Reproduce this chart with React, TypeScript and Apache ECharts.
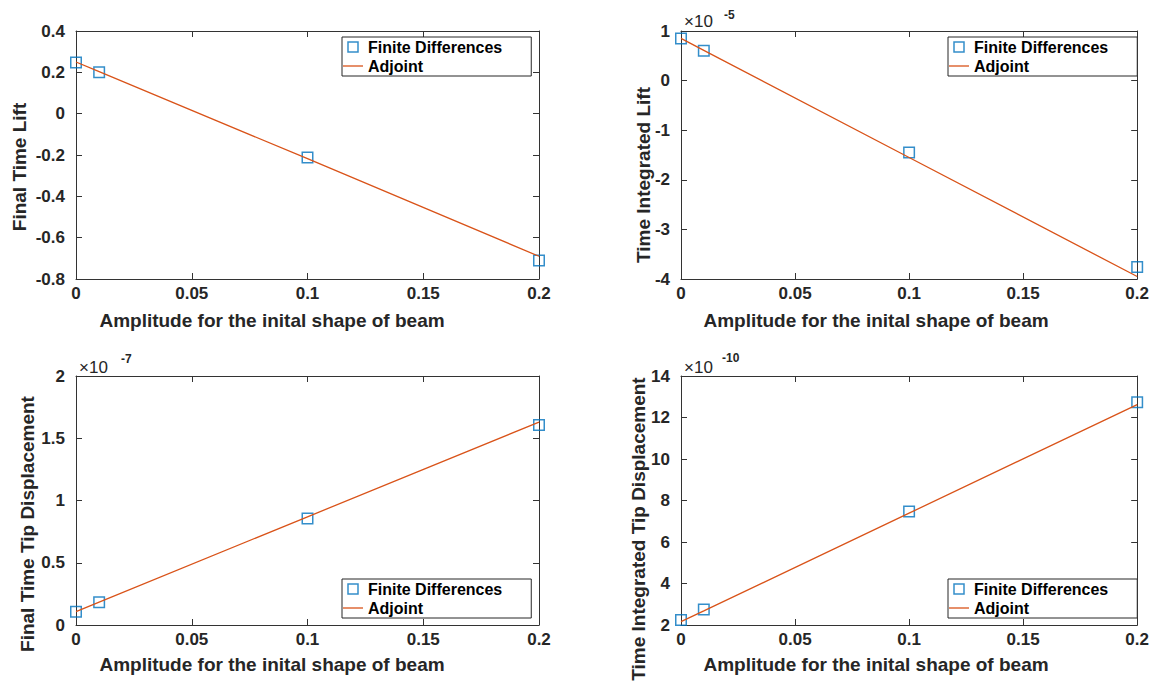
import React, { useEffect, useRef } from "react";
import * as echarts from "echarts";

const amplitudes = [0, 0.01, 0.1, 0.2];
const xTicksInterval = 0.05;

const fdFinalLift = [0.248, 0.2, -0.212, -0.71];
const adjFinalLift = [0.25, 0.203, -0.218, -0.69];

const fdIntLift = [0.85, 0.6, -1.45, -3.76]; // x 1e-5
const adjIntLift = [0.85, 0.61, -1.55, -3.95];

const fdFinalTip = [0.107, 0.182, 0.856, 1.607]; // x 1e-7
const adjFinalTip = [0.107, 0.183, 0.869, 1.63];

const fdIntTip = [2.24, 2.75, 7.47, 12.73]; // x 1e-10
const adjIntTip = [2.16, 2.68, 7.39, 12.62];

const yTitles = [
  "Final Time Lift",
  "Time Integrated Lift",
  "Final Time Tip Displacement",
  "Time Integrated Tip Displacement",
];
const exponents = ["", "-5", "-7", "-10"];
const yMins = [-0.8, -4, 0, 2];
const yMaxs = [0.4, 1, 2, 14];
const yIntervals = [0.2, 1, 0.5, 2];
const xTitle = "Amplitude for the inital shape of beam";
const legendNames = ["Finite Differences", "Adjoint"];

const FONT = "'Liberation Sans', Arial, Helvetica, sans-serif";
const TXT = "#262626";
const BLUE = "#0072BD";
const ORANGE = "#D95319";

export default function App() {
  const ref = useRef<HTMLDivElement>(null);

  useEffect(() => {
    if (!ref.current) return;
    const chart = echarts.init(ref.current, null, { renderer: "svg" });

    const fd = [fdFinalLift, fdIntLift, fdFinalTip, fdIntTip];
    const adj = [adjFinalLift, adjIntLift, adjFinalTip, adjIntTip];

    const grids = [
      { left: 76, top: 31, width: 463, height: 248 },
      { left: 681, top: 31, width: 462, height: 248 },
      { left: 76, top: 376, width: 463, height: 249 },
      { left: 681, top: 376, width: 462, height: 249 },
    ];

    const axisLine = { show: true, onZero: false, lineStyle: { color: "#333", width: 1 } };
    const tick = { show: true, inside: true, length: 6, lineStyle: { color: "#333" } };
    const xLabelStyle = {
      show: true,
      color: TXT,
      fontFamily: FONT,
      fontWeight: "bold",
      fontSize: 17,
      margin: 6,
    };
    const yLabelStyle = { ...xLabelStyle, margin: 11 };

    const xAxis: any[] = [];
    const yAxis: any[] = [];
    const series: any[] = [];
    const legends: any[] = [];
    const legendPos = [
      { left: 342, top: 37 },
      { left: 948, top: 37 },
      { left: 342, top: 579 },
      { left: 948, top: 579 },
    ];

    for (let i = 0; i < 4; i++) {
      for (const pos of ["bottom", "top"]) {
        xAxis.push({
          type: "value",
          gridIndex: i,
          position: pos,
          min: 0,
          max: 0.2,
          interval: xTicksInterval,
          axisLine,
          axisTick: tick,
          splitLine: { show: false },
          axisLabel: pos === "bottom" ? xLabelStyle : { show: false },
        });
      }
      for (const pos of ["left", "right"]) {
        yAxis.push({
          type: "value",
          gridIndex: i,
          position: pos,
          min: yMins[i],
          max: yMaxs[i],
          interval: yIntervals[i],
          axisLine,
          axisTick: tick,
          splitLine: { show: false },
          axisLabel: pos === "left" ? yLabelStyle : { show: false },
        });
      }

      series.push({
        name: legendNames[0],
        type: "scatter",
        xAxisIndex: 2 * i,
        yAxisIndex: 2 * i,
        symbol: "rect",
        symbolSize: 10.5,
        itemStyle: { color: "rgba(0,0,0,0)", borderColor: BLUE, borderWidth: 1.5 },
        data: amplitudes.map((x, k) => [x, fd[i][k]]),
        z: 2,
      });
      series.push({
        name: legendNames[1],
        type: "line",
        xAxisIndex: 2 * i,
        yAxisIndex: 2 * i,
        symbol: "none",
        showSymbol: false,
        lineStyle: { color: ORANGE, width: 1.3 },
        itemStyle: { color: ORANGE },
        data: amplitudes.map((x, k) => [x, adj[i][k]]),
        z: 3,
      });

      legends.push({
        ...legendPos[i],
        orient: "vertical",
        selectedMode: false,
        backgroundColor: "#fff",
        borderColor: "#262626",
        borderWidth: 1,
        borderRadius: 0,
        padding: [2, 29, 2, 1],
        itemGap: 3,
        itemWidth: 20,
        itemHeight: 10,
        textStyle: {
          color: "#000",
          fontFamily: FONT,
          fontWeight: "bold",
          fontSize: 16,
          lineHeight: 16,
        },
        data: [
          {
            name: legendNames[0],
            icon: "path://M0,0H10V10H0Z",
            itemStyle: { color: "rgba(0,0,0,0)", borderColor: BLUE, borderWidth: 1.5 },
          },
          {
            name: legendNames[1],
            icon: "path://M0,0H20V1.3H0Z",
            itemStyle: { color: ORANGE, borderWidth: 0 },
          },
        ],
      });
    }

    const xTitlePos = [
      [272, 320],
      [876, 320],
      [272, 664],
      [876, 664],
    ];
    const yTitlePos = [
      [19, 167],
      [643, 175],
      [27, 524],
      [638, 529],
    ];
    const expPos = [
      null,
      [684, 21, 724, 15],
      [79, 367, 121, 359],
      [684, 367, 722, 358],
    ];

    const graphic: any[] = [];
    for (let i = 0; i < 4; i++) {
      graphic.push({
        type: "text",
        x: xTitlePos[i][0],
        y: xTitlePos[i][1],
        style: {
          text: xTitle,
          fill: TXT,
          font: `bold 19px ${FONT}`,
          textAlign: "center",
          textVerticalAlign: "middle",
        },
      });
      graphic.push({
        type: "text",
        x: yTitlePos[i][0],
        y: yTitlePos[i][1],
        rotation: Math.PI / 2,
        style: {
          text: yTitles[i],
          fill: TXT,
          font: `bold 19px ${FONT}`,
          textAlign: "center",
          textVerticalAlign: "middle",
        },
      });
      const ep = expPos[i];
      if (ep && exponents[i]) {
        graphic.push({
          type: "text",
          x: ep[0],
          y: ep[1],
          style: {
            text: "×10",
            fill: TXT,
            fontSize: 17,
            fontFamily: FONT,
            textAlign: "left",
            textVerticalAlign: "middle",
          },
        });
        graphic.push({
          type: "text",
          x: ep[2],
          y: ep[3],
          style: {
            text: exponents[i],
            fill: TXT,
            fontSize: 12,
            fontWeight: "bold",
            fontFamily: FONT,
            textAlign: "left",
            textVerticalAlign: "middle",
          },
        });
      }
    }

    chart.setOption({
      animation: false,
      backgroundColor: "#fff",
      grid: grids,
      xAxis,
      yAxis,
      series,
      legend: legends,
      graphic,
    });

    return () => chart.dispose();
  }, []);

  return (
    <div
      ref={ref}
      style={{ position: "absolute", left: 0, top: 0, width: 1152, height: 685 }}
    />
  );
}
